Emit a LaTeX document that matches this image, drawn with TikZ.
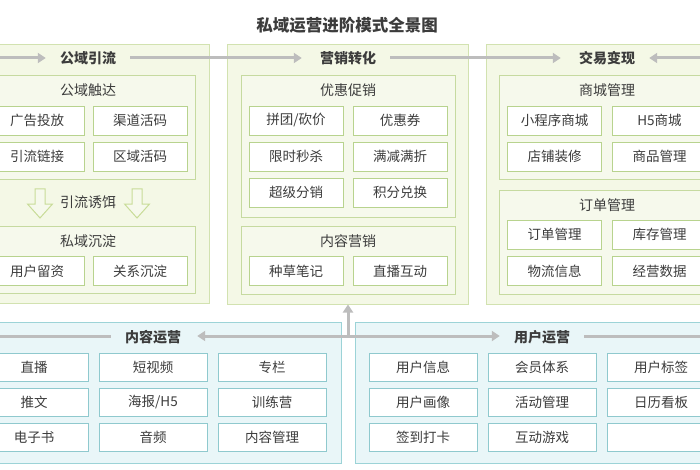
\documentclass[tikz,border=0pt]{standalone}
\usepackage{fontspec}
\setmainfont{Noto Sans CJK SC}
\usetikzlibrary{arrows.meta}
\definecolor{txt}{HTML}{3C3C3C}
\definecolor{gfill}{HTML}{F4F8E6}
\definecolor{gborder}{HTML}{D2E2B0}
\definecolor{gsubfill}{HTML}{F6F9EC}
\definecolor{gsubborder}{HTML}{C6DAA0}
\definecolor{gitem}{HTML}{B8D38E}
\definecolor{bfill}{HTML}{E9F6F8}
\definecolor{bborder}{HTML}{9CD3D7}
\definecolor{bitem}{HTML}{8FC9CE}
\definecolor{flowc}{HTML}{BDBDBD}
\definecolor{darrow}{HTML}{C8DC98}
\tikzset{
  x=1pt, y=-1pt,
  panelG/.style={draw=gborder, fill=gfill, line width=1pt, inner sep=0pt},
  subG/.style={draw=gsubborder, fill=gsubfill, line width=1pt, inner sep=0pt},
  itemG/.style={draw=gitem, fill=white, line width=0.9pt, inner sep=0pt,
    minimum width=94pt, minimum height=29pt, text=txt, font=\fontsize{13.5}{14}\selectfont},
  panelB/.style={draw=bborder, fill=bfill, line width=1pt, inner sep=0pt},
  itemB/.style={draw=bitem, fill=white, line width=0.9pt, inner sep=0pt,
    minimum width=108pt, minimum height=28pt, text=txt, font=\fontsize{13.5}{14}\selectfont},
  sublabel/.style={text=txt, inner sep=0pt, font=\fontsize{14}{15}\selectfont},
  header/.style={text=txt, inner ysep=0pt, inner xsep=14pt, font=\fontsize{14}{15}\selectfont\bfseries},
  flow/.style={draw=flowc, line width=3pt, -{Triangle[length=8pt,width=10pt]}},
  flowplain/.style={draw=flowc, line width=3pt},
  downarrow/.style={draw=darrow, fill=gsubfill, line width=1pt, line join=miter},
}
\begin{document}
\begin{tikzpicture}
\useasboundingbox (0,0) rectangle (700,470);
\clip (0,0) rectangle (700,470);
\fill[white] (0,0) rectangle (700,470);

% title
\node[text=txt, font=\fontsize{16.5}{18}\selectfont\bfseries] (title) at (347,25) {私域运营进阶模式全景图};

% top panels
\node[panelG, minimum width=241pt, minimum height=258pt] (p1) at (88.5,174) {};
\node[panelG, minimum width=241pt, minimum height=259pt] (p2) at (347.5,174.5) {};
\node[panelG, minimum width=241pt, minimum height=259pt] (p3) at (606.5,174.5) {};

% sub panels
\node[subG, minimum width=213pt, minimum height=104pt] (s1a) at (88.5,128) {};
\node[subG, minimum width=213pt, minimum height=67pt] (s1b) at (88.5,259.5) {};
\node[subG, minimum width=214pt, minimum height=141pt] (s2a) at (348,146.5) {};
\node[subG, minimum width=214pt, minimum height=68pt] (s2b) at (348,260) {};
\node[subG, minimum width=214pt, minimum height=104pt] (s3a) at (606,128) {};
\node[subG, minimum width=214pt, minimum height=103pt] (s3b) at (606,242.5) {};

\node[sublabel] (l1a) at (88,90) {公域触达};
\node[sublabel] (l1b) at (88,241) {私域沉淀};
\node[sublabel] (l2a) at (348,90) {优惠促销};
\node[sublabel] (l2b) at (348,241) {内容营销};
\node[sublabel] (l3a) at (607,90) {商城管理};
\node[sublabel] (l3b) at (607,205) {订单管理};

% panel 1 items
\node[itemG] (i11) at (37,120.5) {广告投放};
\node[itemG] (i12) at (140,120.5) {渠道活码};
\node[itemG] (i13) at (37,156.5) {引流链接};
\node[itemG] (i14) at (140,156.5) {区域活码};
\node[itemG] (i15) at (37,271) {用户留资};
\node[itemG] (i16) at (140,271) {关系沉淀};

% bait
\node[sublabel] (bait) at (88,202) {引流诱饵};
\foreach \cx in {40,137}{
  \draw[downarrow] (\cx-5,189) -- (\cx+5,189) -- (\cx+5,204) -- (\cx+12.5,204)
    -- (\cx,218) -- (\cx-12.5,204) -- (\cx-5,204) -- cycle;
}

% panel 2 items
\node[itemG] (i21) at (296,120.5) {拼团/砍价};
\node[itemG] (i22) at (400,120.5) {优惠券};
\node[itemG] (i23) at (296,156.5) {限时秒杀};
\node[itemG] (i24) at (400,156.5) {满减满折};
\node[itemG] (i25) at (296,192.5) {超级分销};
\node[itemG] (i26) at (400,192.5) {积分兑换};
\node[itemG] (i27) at (296,271) {种草笔记};
\node[itemG] (i28) at (400,271) {直播互动};

% panel 3 items
\node[itemG] (i31) at (554.5,120.5) {小程序商城};
\node[itemG] (i32) at (659.5,120.5) {H5商城};
\node[itemG] (i33) at (554.5,156.5) {店铺装修};
\node[itemG] (i34) at (659.5,156.5) {商品管理};
\node[itemG] (i35) at (554.5,234.5) {订单管理};
\node[itemG] (i36) at (659.5,234.5) {库存管理};
\node[itemG] (i37) at (554.5,271) {物流信息};
\node[itemG] (i38) at (659.5,271) {经营数据};

% top header flow
\node[header] (h1) at (88,58) {公域引流};
\node[header] (h2) at (348,58) {营销转化};
\node[header] (h3) at (607,58) {交易变现};
\coordinate (hl) at (-5,58);
\coordinate (hr) at (705,58);
\draw[flow] (hl) -- (h1.west);
\draw[flow, shorten >=4pt] (h1.east) -- (h2.west);
\draw[flow, shorten >=4pt] (h2.east) -- (h3.west);
\draw[flow] (hr) -- (h3.east);

% bottom panels
\node[panelB, minimum width=371pt, minimum height=141pt] (q1) at (155.5,392.5) {};
\node[panelB, minimum width=370pt, minimum height=141pt] (q2) at (540,392.5) {};

\node[itemB] (c11) at (34,367) {直播};
\node[itemB] (c12) at (153,367) {短视频};
\node[itemB] (c13) at (272,367) {专栏};
\node[itemB] (c14) at (34,402) {推文};
\node[itemB] (c15) at (153,402) {海报/H5};
\node[itemB] (c16) at (272,402) {训练营};
\node[itemB] (c17) at (34,437.5) {电子书};
\node[itemB] (c18) at (153,437.5) {音频};
\node[itemB] (c19) at (272,437.5) {内容管理};

\node[itemB] (u11) at (423,367) {用户信息};
\node[itemB] (u12) at (542,367) {会员体系};
\node[itemB] (u13) at (661,367) {用户标签};
\node[itemB] (u14) at (423,402) {用户画像};
\node[itemB] (u15) at (542,402) {活动管理};
\node[itemB] (u16) at (661,402) {日历看板};
\node[itemB] (u17) at (423,437.5) {签到打卡};
\node[itemB] (u18) at (542,437.5) {互动游戏};
\node[itemB] (u19) at (661,437.5) {};

% bottom header flow
\node[header] (b1) at (153,337) {内容运营};
\node[header] (b2) at (542,337) {用户运营};
\coordinate (j) at (348,336);
\coordinate (bl) at (-5,336);
\coordinate (br) at (705,336);
\draw[flow, shorten >=2pt] (j) -- (b1.east |- j);
\draw[flowplain] (b1.west |- j) -- (bl);
\draw[flow] (j) -- (b2.west |- j);
\draw[flowplain] (b2.east |- j) -- (br);
\draw[flow, shorten <=-1.5pt] (j) -- (j |- p2.south);
\end{tikzpicture}
\end{document}
